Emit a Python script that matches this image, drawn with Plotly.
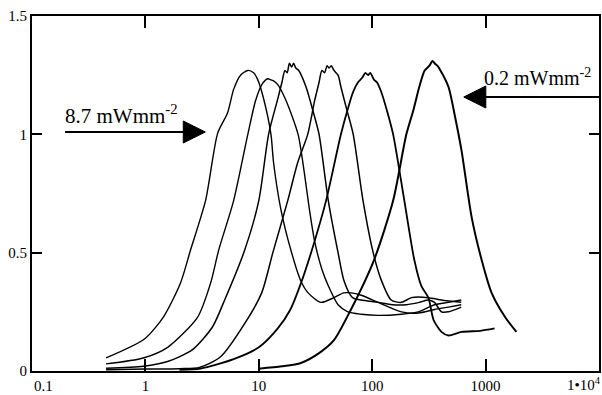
import plotly.graph_objects as go

# ---- data (x on log scale) ----
c1_x = [0.45, 0.98, 1.44, 2.04, 2.5, 3.4, 4.34, 5.3, 6.0, 6.9, 8.0, 9.0, 9.8, 11.1, 12.8, 13.5, 15.7, 19.2, 23.5, 27.2, 35.4, 46, 56, 65, 80, 113, 181, 255, 354, 470, 610]
c1_y = [0.055, 0.135, 0.228, 0.372, 0.511, 0.722, 1.005, 1.09, 1.19, 1.25, 1.27, 1.26, 1.23, 1.145, 1.0, 0.88, 0.68, 0.51, 0.38, 0.33, 0.29, 0.31, 0.33, 0.33, 0.32, 0.29, 0.25, 0.245, 0.26, 0.27, 0.28]

c2_x = [0.45, 0.96, 1.57, 2.89, 3.76, 4.43, 6.0, 8.0, 9.4, 10.8, 12.0, 12.8, 13.6, 14.7, 17.3, 22.2, 25, 28, 31, 36, 41, 50, 61, 80, 113, 181, 255, 354, 470, 610]
c2_y = [0.03, 0.055, 0.10, 0.228, 0.372, 0.511, 0.72, 1.0, 1.145, 1.215, 1.235, 1.23, 1.225, 1.21, 1.145, 1.0, 0.85, 0.68, 0.55, 0.43, 0.36, 0.28, 0.25, 0.24, 0.235, 0.24, 0.25, 0.28, 0.29, 0.30]

c3_x = [0.45, 0.96, 1.57, 2.6, 3.9, 5.0, 7.5, 10.0, 12.2, 14.7, 16.0, 17.0, 17.8, 18.6, 19.5, 20.3, 21.2, 22.5, 26.1, 30, 34, 41, 50, 56.5, 67, 80, 113, 150, 200, 260, 313, 354, 408, 471, 610]
c3_y = [0.012, 0.02, 0.04, 0.09, 0.186, 0.30, 0.51, 0.72, 1.0, 1.15, 1.22, 1.27, 1.26, 1.30, 1.285, 1.30, 1.28, 1.27, 1.2, 1.1, 1.0, 0.72, 0.5, 0.38, 0.31, 0.30, 0.29, 0.28, 0.28, 0.29, 0.30, 0.29, 0.25, 0.25, 0.27]

c4_x = [0.45, 1.0, 2.0, 3.0, 4.6, 7.5, 10.6, 13.3, 18, 22, 27, 31, 34, 36, 38, 40, 41.7, 43.5, 46, 50, 53, 60, 68, 83, 102, 120, 147, 181, 222, 313, 408, 610]
c4_y = [0.005, 0.008, 0.01, 0.015, 0.06, 0.2, 0.33, 0.5, 0.72, 0.88, 1.0, 1.14, 1.22, 1.27, 1.26, 1.29, 1.28, 1.29, 1.27, 1.25, 1.2, 1.1, 1.0, 0.72, 0.5, 0.385, 0.30, 0.29, 0.31, 0.31, 0.30, 0.29]

c5_x = [2.0, 3.07, 6.0, 10, 14.7, 19, 23.5, 28.9, 39.2, 53, 62, 68, 75, 82, 87, 92, 96, 104, 110, 120, 135, 153, 192, 235, 271, 313, 348, 408, 471, 614, 900, 1200]
c5_y = [0.005, 0.01, 0.05, 0.1, 0.18, 0.26, 0.37, 0.5, 0.72, 1.0, 1.12, 1.18, 1.22, 1.24, 1.26, 1.25, 1.26, 1.23, 1.22, 1.18, 1.1, 1.0, 0.72, 0.47, 0.36, 0.31, 0.215, 0.165, 0.15, 0.165, 0.17, 0.18]

c6_x = [10, 16, 23.5, 35, 46, 65, 104, 153, 200, 230, 260, 290, 320, 340, 355, 375, 400, 471, 540, 614, 753, 922, 1130, 1475, 1870]
c6_y = [0.01, 0.02, 0.034, 0.08, 0.13, 0.26, 0.47, 0.72, 1.0, 1.1, 1.2, 1.27, 1.29, 1.31, 1.30, 1.29, 1.27, 1.2, 1.07, 0.93, 0.65, 0.47, 0.33, 0.23, 0.165]

x_ticks = [1, 10, 100, 1000]
x_tick_text = ["1", "10", "100", "1000"]
y_ticks = [0, 0.5, 1, 1.5]
y_tick_text = ["0", "0.5", "1", "1.5"]

label_high = "8.7 mWmm<sup>-2</sup>"
label_low = "0.2 mWmm<sup>-2</sup>"

SERIF = "Liberation Serif, Times New Roman, serif"

fig = go.Figure()
curves = [(c1_x, c1_y, 1.4), (c2_x, c2_y, 1.4), (c3_x, c3_y, 1.5),
          (c4_x, c4_y, 1.5), (c5_x, c5_y, 1.8), (c6_x, c6_y, 2.0)]
for xs, ys, w in curves:
    fig.add_trace(go.Scatter(x=xs, y=ys, mode="lines",
                             line=dict(color="black", width=w, shape="spline", smoothing=0.7),
                             showlegend=False, hoverinfo="skip"))

axis_common = dict(showline=True, linecolor="black", linewidth=2, mirror="ticks",
                   ticks="inside", tickcolor="black", tickwidth=1.5,
                   showgrid=False, zeroline=False, automargin=False,
                   tickfont=dict(family=SERIF, size=15, color="black"))

fig.update_xaxes(type="log", range=[-1, 4], tickvals=x_ticks, ticktext=x_tick_text,
                 ticklen=12, ticklabelstandoff=0, **axis_common)
fig.update_yaxes(range=[0, 1.5], tickvals=y_ticks, ticktext=y_tick_text,
                 ticklen=10, **axis_common)

PW, PH = 566.0, 355.0
def px(xp):
    return (xp - 32) / PW
def py(yp):
    return (371 - yp) / PH

tickfont = dict(family=SERIF, size=15, color="black")
ann = []
# edge tick labels
ann.append(dict(text="0.1", xref="paper", yref="paper", x=px(43), y=py(386),
                xanchor="center", yanchor="middle", showarrow=False, font=tickfont))
ann.append(dict(text="1•10<sup>4</sup>", xref="paper", yref="paper", x=px(602), y=py(384),
                xanchor="right", yanchor="middle", showarrow=False, font=tickfont))
# intensity labels
ann.append(dict(text=label_high, xref="paper", yref="paper", x=px(63), y=py(130),
                xanchor="left", yanchor="bottom", showarrow=False,
                font=dict(family=SERIF, size=21, color="black")))
ann.append(dict(text=label_low, xref="paper", yref="paper", x=px(481), y=py(91),
                xanchor="left", yanchor="bottom", showarrow=False,
                font=dict(family=SERIF, size=20, color="black")))

# arrows drawn as shapes (shaft + solid head)
shapes = []
def arrow(x_tail, x_tip, y, head_len=22, head_half=11):
    sgn = 1 if x_tip > x_tail else -1
    xb = x_tip - sgn * head_len
    shapes.append(dict(type="line", xref="paper", yref="paper",
                       x0=px(x_tail), x1=px(xb + sgn * 2),
                       y0=py(y), y1=py(y), line=dict(color="black", width=2)))
    path = "M {:.4f},{:.4f} L {:.4f},{:.4f} L {:.4f},{:.4f} Z".format(
        px(xb), py(y - head_half), px(x_tip), py(y), px(xb), py(y + head_half))
    shapes.append(dict(type="path", xref="paper", yref="paper", path=path,
                       fillcolor="black", line=dict(color="black", width=1)))

arrow(65, 205, 132)
arrow(600, 463, 97)

fig.update_layout(width=602, height=395, margin=dict(l=32, r=3, t=16, b=24),
                  plot_bgcolor="white", paper_bgcolor="white",
                  annotations=ann, shapes=shapes)

fig.write_html("out.html")
